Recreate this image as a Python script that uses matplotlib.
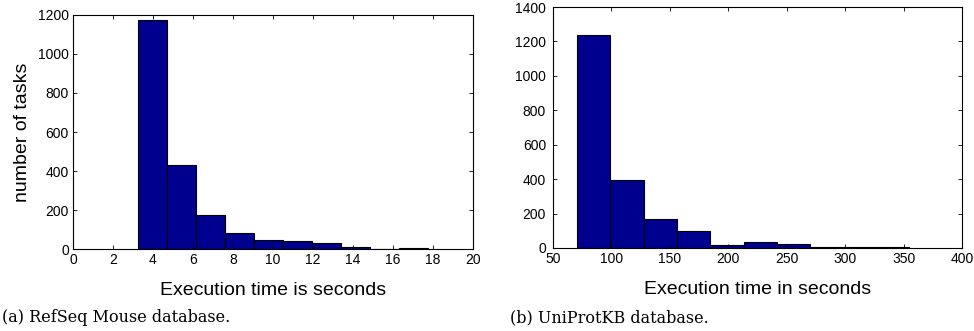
import numpy as np
import matplotlib
matplotlib.use('Agg')
import matplotlib.pyplot as plt

# left panel: RefSeq Mouse
edges_a = [3.25, 4.70, 6.15, 7.60, 9.05, 10.50, 11.95, 13.40, 14.85, 16.30, 17.75]
counts_a = [1174, 433, 176, 82, 44, 43, 32, 10, 2, 4]

# right panel: UniProtKB
edges_b = [70.3, 99.0, 127.6, 156.2, 184.6, 213.0, 241.4, 269.7, 298.0, 326.3, 354.6]
counts_b = [1237, 396, 168, 98, 17, 35, 21, 4, 8, 4]

plt.rcParams['font.family'] = ['Liberation Sans', 'DejaVu Sans']
bar_color = '#00008F'

fig = plt.figure(figsize=(9.74, 3.31), dpi=100)
ax1 = fig.add_axes([0.0749, 0.2477, 0.4107, 0.707])
ax2 = fig.add_axes([0.5678, 0.2508, 0.42, 0.728])

def hist_panel(ax, edges, counts):
	e = np.array(edges)
	ax.bar(e[:-1], counts, width=np.diff(e), align='edge', color=bar_color,
		edgecolor='black', linewidth=0.8)
	ax.tick_params(direction='in', top=True, right=True, labelsize=10, length=3,
		width=0.6, pad=3)
	for s in ax.spines.values():
		s.set_linewidth(0.8)

hist_panel(ax1, edges_a, counts_a)
ax1.set_xlim(0, 20)
ax1.set_ylim(0, 1200)
ax1.set_xticks(np.arange(0, 21, 2))
ax1.set_yticks(np.arange(0, 1201, 200))
ax1.set_xlabel('Execution time is seconds', fontsize=14, labelpad=11)
ax1.set_ylabel('number of tasks', fontsize=14, labelpad=5)

hist_panel(ax2, edges_b, counts_b)
ax2.set_xlim(50, 400)
ax2.set_ylim(0, 1400)
ax2.set_xticks(np.arange(50, 401, 50))
ax2.set_yticks(np.arange(0, 1401, 200))
ax2.tick_params(axis='y', pad=5)
ax2.set_xlabel('Execution time in seconds', fontsize=14, labelpad=11)

fig.text(0.002, 0.04, '(a) RefSeq Mouse database.', fontsize=11.5,
	family=['DejaVu Serif'], va='center')
fig.text(0.524, 0.04, '(b) UniProtKB database.', fontsize=11.5,
	family=['DejaVu Serif'], va='center')

plt.savefig('out.png', dpi=100)
plt.close()
